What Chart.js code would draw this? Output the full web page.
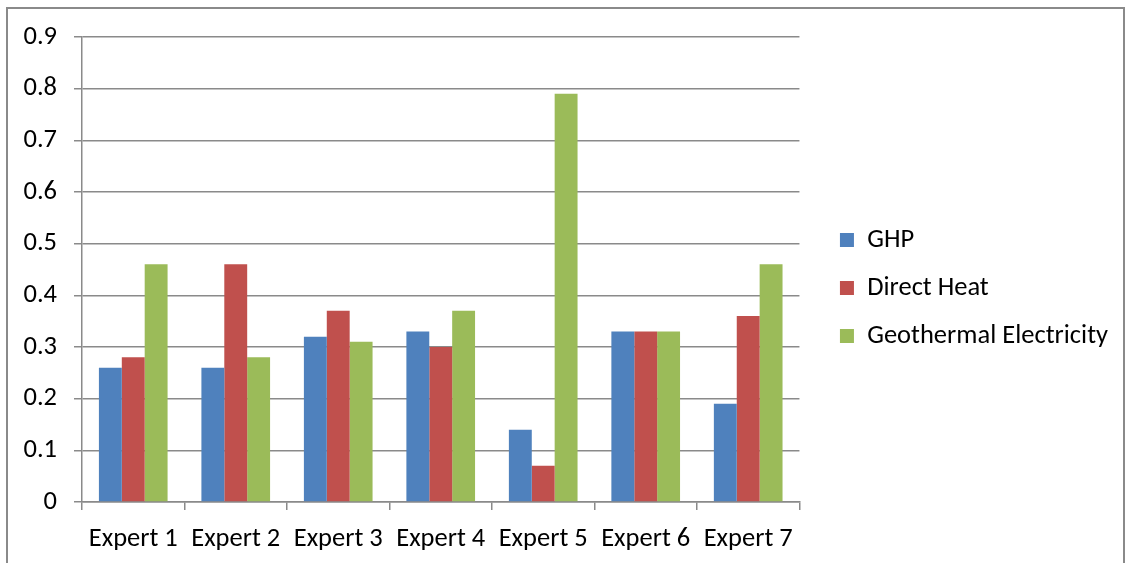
<!DOCTYPE html>
<html>
<head>
<meta charset="utf-8">
<script src="https://cdn.jsdelivr.net/npm/chart.js@4/dist/chart.umd.min.js"></script>
<style>
  html, body { margin: 0; padding: 0; background: #fff; }
  #wrap { position: relative; width: 1126px; height: 563px; overflow: hidden; }
  #frame { position: absolute; left: 6px; top: 7px; width: 1115px; height: 600px;
           border: 2px solid #8a8a8a; pointer-events: none; }
</style>
</head>
<body>
<div id="wrap">
  <canvas id="chart" width="1126" height="563"></canvas>
  <div id="frame"></div>
</div>
<script>
// categories and series
const experts = ['Expert 1', 'Expert 2', 'Expert 3', 'Expert 4', 'Expert 5', 'Expert 6', 'Expert 7'];
const ghp = [0.26, 0.26, 0.32, 0.33, 0.14, 0.33, 0.19];
const directHeat = [0.28, 0.46, 0.37, 0.30, 0.07, 0.33, 0.36];
const geoElectricity = [0.46, 0.28, 0.31, 0.37, 0.79, 0.33, 0.46];
const yTicks = [0, 0.1, 0.2, 0.3, 0.4, 0.5, 0.6, 0.7, 0.8, 0.9];

const gridColor = '#8a8a8a';

Chart.defaults.font.family = 'Carlito, Calibri, "Open Sans", sans-serif';
Chart.defaults.font.size = 26.5;
Chart.defaults.color = '#000';

new Chart(document.getElementById('chart'), {
  type: 'bar',
  data: {
    labels: experts,
    datasets: [
      { label: 'GHP', data: ghp, backgroundColor: '#4f81bd' },
      { label: 'Direct Heat', data: directHeat, backgroundColor: '#c0504d' },
      { label: 'Geothermal Electricity', data: geoElectricity, backgroundColor: '#9bbb59' }
    ]
  },
  options: {
    responsive: false,
    animation: false,
    events: [],
    categoryPercentage: 0.67,
    barPercentage: 1.0,
    layout: { padding: { top: 13, left: 0, right: 8, bottom: 0 } },
    plugins: {
      legend: {
        position: 'right',
        maxWidth: 400,
        labels: { boxWidth: 14, boxHeight: 14, padding: 21.5, font: { size: 26.5 } }
      },
      tooltip: { enabled: false }
    },
    scales: {
      x: {
        grid: { display: true, drawOnChartArea: false, drawTicks: true, tickLength: 8, offset: true, color: gridColor, lineWidth: 1.5 },
        border: { color: gridColor, width: 1.5 },
        ticks: { padding: 13 },
        afterFit: s => { s.height = 61; }
      },
      y: {
        min: 0,
        max: 0.9,
        afterBuildTicks: s => { s.ticks = yTicks.map(v => ({ value: v })); },
        grid: { color: gridColor, lineWidth: 1.5, tickLength: 8 },
        border: { color: gridColor, width: 1.5 },
        ticks: { padding: 17, callback: v => String(Math.round(v * 10) / 10) },
        afterFit: s => { s.width = 82; }
      },
      // empty boxes that only hold space around the plot area
      gapTop: {
        type: 'linear',
        position: 'top',
        display: true,
        grid: { display: false },
        border: { display: false },
        ticks: { display: false },
        afterFit: s => { s.height = 24; }
      },
      gapRight: {
        type: 'linear',
        position: 'right',
        display: true,
        grid: { display: false },
        border: { display: false },
        ticks: { display: false },
        afterFit: s => { s.width = 19; }
      }
    }
  }
});
</script>
</body>
</html>
